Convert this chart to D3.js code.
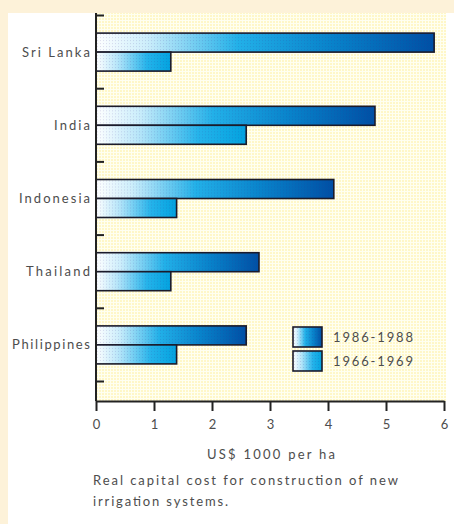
<!DOCTYPE html>
<html>
<head>
<meta charset="utf-8">
<script src="https://cdn.jsdelivr.net/npm/d3@7"></script>
<style>
  html, body { margin: 0; padding: 0; background: #fdf2d9; }
  svg { display: block; }
  text { font-family: Lato, "Open Sans", sans-serif; fill: #4d4d4d; }
</style>
</head>
<body>
<svg id="chart" width="454" height="524"></svg>
<script>
// Real capital cost of new irrigation systems, US$ 1000 per ha
const countries = ["Sri Lanka", "India", "Indonesia", "Thailand", "Philippines"];
const periods = ["1986-1988", "1966-1969"];
const cost1986 = [5.83, 4.81, 4.10, 2.81, 2.59];
const cost1966 = [1.29, 2.59, 1.39, 1.29, 1.39];
const xTicks = [0, 1, 2, 3, 4, 5, 6];
const axisTitle = "US$ 1000 per ha";
const captionLines = ["Real capital cost for construction of new", "irrigation systems."];

const rows = countries.map((c, i) => ({ country: c, values: [cost1986[i], cost1966[i]] }));

const svg = d3.select("#chart");
const defs = svg.append("defs");

// Dithered pale-yellow plot background
const bgPat = defs.append("pattern").attr("id", "plotDots")
  .attr("width", 3).attr("height", 3).attr("patternUnits", "userSpaceOnUse");
bgPat.append("rect").attr("width", 3).attr("height", 3).attr("fill", "#fffff0");
bgPat.append("rect").attr("width", 2).attr("height", 2).attr("fill", "#fff7c8");

// Gradients for the two periods
const gradStops = {
  "1986-1988": [[0, "#ffffff"], [0.15, "#cdeefb"], [0.42, "#22b0e8"], [0.7, "#0882ca"], [1, "#004fa4"]],
  "1966-1969": [[0, "#ffffff"], [0.28, "#b8e6f9"], [0.68, "#25b3ea"], [1, "#02a2df"]]
};
periods.forEach((p, i) => {
  const g = defs.append("linearGradient").attr("id", "grad" + i)
    .attr("x1", 0).attr("x2", 1).attr("y1", 0).attr("y2", 0);
  gradStops[p].forEach(([o, c]) => g.append("stop").attr("offset", o).attr("stop-color", c));
});

// Fine dot texture laid over the bars
const dotPat = defs.append("pattern").attr("id", "barDots")
  .attr("width", 3).attr("height", 3).attr("patternUnits", "userSpaceOnUse");
dotPat.append("rect").attr("x", 1).attr("y", 1).attr("width", 1).attr("height", 1)
  .attr("fill", "#3a2a90").attr("opacity", 0.16);

// White panel
svg.append("rect").attr("x", 8).attr("y", 13).attr("width", 446).attr("height", 511).attr("fill", "#ffffff");

const x = d3.scaleLinear().domain([0, 6]).range([96, 444]);
const y = d3.scaleBand().domain(countries).range([15.5, 381.5]).padding(0);
const y1 = d3.scaleBand().domain(periods).range([0, 38]);

// Plot area
svg.append("rect").attr("x", 96).attr("y", 13).attr("width", 350).attr("height", 388)
  .attr("fill", "url(#plotDots)");

// Bars
const groups = svg.append("g").selectAll("g").data(rows).join("g")
  .attr("transform", d => `translate(0,${y(d.country) + y.bandwidth() / 2 - 19})`);

groups.selectAll("g.bar").data(d => d.values.map((v, i) => ({ period: periods[i], value: v, idx: i })))
  .join("g").attr("class", "bar")
  .each(function (d) {
    const g = d3.select(this);
    const bx = x(0), by = y1(d.period), bw = x(d.value) - x(0), bh = y1.bandwidth();
    g.append("rect").attr("x", bx).attr("y", by).attr("width", bw).attr("height", bh)
      .attr("fill", `url(#grad${d.idx})`);
    g.append("rect").attr("x", bx).attr("y", by).attr("width", bw).attr("height", bh)
      .attr("fill", "url(#barDots)").attr("stroke", "#1b1b2b").attr("stroke-width", 1.6);
  });

// Y axis line and boundary ticks
const boundaries = d3.range(countries.length + 1).map(i => y.range()[0] + i * y.step());
svg.append("line").attr("x1", 96).attr("x2", 96).attr("y1", 13).attr("y2", 401)
  .attr("stroke", "#222").attr("stroke-width", 2);
svg.append("g").selectAll("line").data(boundaries).join("line")
  .attr("x1", 96).attr("x2", 104).attr("y1", d => d).attr("y2", d => d)
  .attr("stroke", "#222").attr("stroke-width", 2);

// Category labels
const labelWidths = { "Sri Lanka": 68, "India": 36, "Indonesia": 71, "Thailand": 64, "Philippines": 78 };
svg.append("g").selectAll("text").data(countries).join("text")
  .attr("x", 90).attr("y", d => y(d) + y.bandwidth() / 2)
  .attr("dy", "0.35em").attr("text-anchor", "end")
  .attr("font-size", 13)
  .attr("textLength", d => labelWidths[d]).attr("lengthAdjust", "spacing")
  .text(d => d);

// X axis
const xAxis = svg.append("g").attr("transform", "translate(0,401)")
  .call(d3.axisBottom(x).tickValues(xTicks).tickFormat(d3.format("d")).tickSize(10).tickSizeOuter(0).tickPadding(9));
xAxis.select(".domain").attr("stroke", "#222").attr("stroke-width", 2);
xAxis.selectAll(".tick line").attr("stroke", "#222").attr("stroke-width", 2);
xAxis.selectAll(".tick text").attr("font-size", 13).attr("font-family", "Lato, sans-serif").attr("fill", "#555");

svg.append("text").attr("x", 271).attr("y", 454).attr("dy", "0.35em")
  .attr("text-anchor", "middle").attr("font-size", 13)
  .attr("textLength", 128).attr("lengthAdjust", "spacing").text(axisTitle);

// Caption
svg.append("g").selectAll("text").data(captionLines).join("text")
  .attr("x", 93).attr("y", (d, i) => 480 + i * 21).attr("dy", "0.35em")
  .attr("font-size", 13)
  .attr("textLength", (d, i) => [305, 135][i]).attr("lengthAdjust", "spacing")
  .text(d => d);

// Legend
const legend = svg.append("g").selectAll("g").data(periods).join("g")
  .attr("transform", (d, i) => `translate(293,${327 + i * 24})`);
legend.append("rect").attr("width", 29).attr("height", 20)
  .attr("fill", (d, i) => `url(#grad${i})`);
legend.append("rect").attr("width", 29).attr("height", 20)
  .attr("fill", "url(#barDots)").attr("stroke", "#1b1b2b").attr("stroke-width", 1.6);
legend.append("text").attr("x", 40).attr("y", 10).attr("dy", "0.35em")
  .attr("font-size", 13).attr("textLength", 80).attr("lengthAdjust", "spacing")
  .text(d => d);
</script>
</body>
</html>
